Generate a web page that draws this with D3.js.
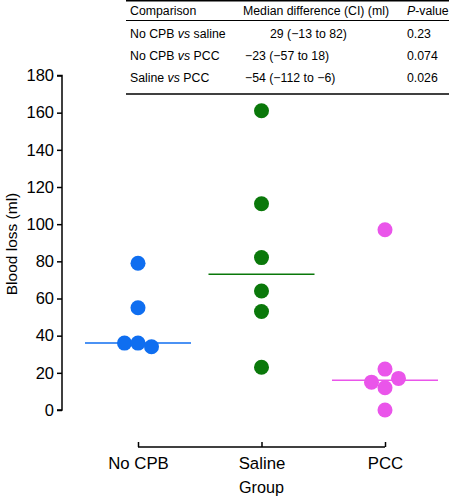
<!DOCTYPE html>
<html><head><meta charset="utf-8">
<script src="https://cdn.jsdelivr.net/npm/d3@7"></script>
<style>body{margin:0;background:#fff}svg{display:block}text{font-family:"Liberation Sans",Arial,sans-serif}</style>
</head><body>
<svg id="c" width="449" height="496"></svg>
<script>
const groups = ["No CPB", "Saline", "PCC"];
const colors = ["#0f6ef0", "#0a780a", "#ea55ea"];
const noCPB = [79, 55, 36, 36, 34];
const saline = [161, 111, 82, 64, 53, 23];
const pcc = [97, 22, 17, 15, 12, 0];
// horizontal jitter slots (point index offsets, in dot-width units) to mimic the scatter layout
const noCPBSlots = [0, 0, -1, 0, 1];
const salineSlots = [0, 0, 0, 0, 0, 0];
const pccSlots = [0, 0, 1, -1, 0, 0];
const medians = [36, 73, 16];
const yTicks = [0, 20, 40, 60, 80, 100, 120, 140, 160, 180];
const tableHeader = ["Comparison", "Median difference (CI) (ml)", "P-value"];
const tableComparisons = [["No CPB ", "vs", " saline"], ["No CPB ", "vs", " PCC"], ["Saline ", "vs", " PCC"]];
const tableDiffs = ["29 (\u221213 to 82)", "\u221223 (\u221257 to 18)", "\u221254 (\u2212112 to \u22126)"];
const tablePs = ["0.23", "0.074", "0.026"];

const svg = d3.select("#c");
const y = d3.scaleLinear().domain([0, 180]).range([410, 75.5]);
const x = d3.scalePoint().domain(groups).range([138, 385]);
const dotR = 7.5, dx = 13.5;

// Y axis
const ya = svg.append("g").attr("transform", "translate(62,0)")
  .call(d3.axisLeft(y).tickValues(yTicks).tickSize(5).tickPadding(3));
ya.select(".domain").attr("stroke", "#000").attr("stroke-width", 1.5).attr("d", `M-5,${y(180)}H0V${y(0)}H-5`);
ya.selectAll(".tick line").attr("stroke-width", 1.5);
ya.selectAll(".tick text").attr("font-size", 16.5).attr("fill", "#000").attr("font-family", "Liberation Sans, Arial, sans-serif");

// X axis
const xa = svg.append("g").attr("transform", "translate(0,447)")
  .call(d3.axisBottom(x).tickSize(-5).tickSizeOuter(0).tickPadding(10));
xa.select(".domain").attr("stroke-width", 1.5).attr("d", `M${x(groups[0])},0H${x(groups[2])}`);
xa.selectAll(".tick line").attr("stroke-width", 1.5);
xa.selectAll(".tick text").attr("font-size", 16.8).attr("fill", "#000").attr("font-family", "Liberation Sans, Arial, sans-serif");

svg.append("text").attr("x", x("Saline")).attr("y", 493).attr("text-anchor", "middle").attr("font-size", 16.2).text("Group");
svg.append("text").attr("transform", `translate(17,244) rotate(-90)`).attr("text-anchor", "middle").attr("font-size", 15.5).text("Blood loss (ml)");

// median lines
const medHalf = 53;
groups.forEach((g, i) => {
  svg.append("line").attr("x1", x(g) - medHalf).attr("x2", x(g) + medHalf)
    .attr("y1", y(medians[i])).attr("y2", y(medians[i]))
    .attr("stroke", colors[i]).attr("stroke-width", 1.5);
});

// points
const series = [[noCPB, noCPBSlots], [saline, salineSlots], [pcc, pccSlots]];
series.forEach(([vals, slots], i) => {
  svg.append("g").selectAll("circle").data(vals).join("circle")
    .attr("cx", (d, j) => x(groups[i]) + slots[j] * dx)
    .attr("cy", d => y(d)).attr("r", dotR).attr("fill", colors[i]);
});

// table
const t = svg.append("g");
t.append("line").attr("x1", 126).attr("x2", 449).attr("y1", 0.75).attr("y2", 0.75).attr("stroke", "#000").attr("stroke-width", 1.5);
t.append("line").attr("x1", 126).attr("x2", 449).attr("y1", 20.5).attr("y2", 20.5).attr("stroke", "#000").attr("stroke-width", 1);
t.append("line").attr("x1", 126).attr("x2", 449).attr("y1", 94).attr("y2", 94).attr("stroke", "#000").attr("stroke-width", 1.5);
const fs = 12.3;
t.append("text").attr("x", 130).attr("y", 15).attr("font-size", fs).text(tableHeader[0]);
t.append("text").attr("x", 243).attr("y", 15).attr("font-size", fs).text(tableHeader[1]);
const ph = t.append("text").attr("x", 407).attr("y", 15).attr("font-size", fs);
ph.append("tspan").attr("font-style", "italic").text("P");
ph.append("tspan").text(tableHeader[2].slice(1));
const rowY = [38, 60, 82];
const diffX = [270, 245, 245];
tableComparisons.forEach((c, i) => {
  const tx = t.append("text").attr("x", 130).attr("y", rowY[i]).attr("font-size", fs);
  tx.append("tspan").text(c[0]);
  tx.append("tspan").attr("font-style", "italic").text(c[1]);
  tx.append("tspan").text(c[2]);
  t.append("text").attr("x", diffX[i]).attr("y", rowY[i]).attr("font-size", fs).text(tableDiffs[i]);
  t.append("text").attr("x", 407).attr("y", rowY[i]).attr("font-size", fs).text(tablePs[i]);
});
</script>
</body></html>
